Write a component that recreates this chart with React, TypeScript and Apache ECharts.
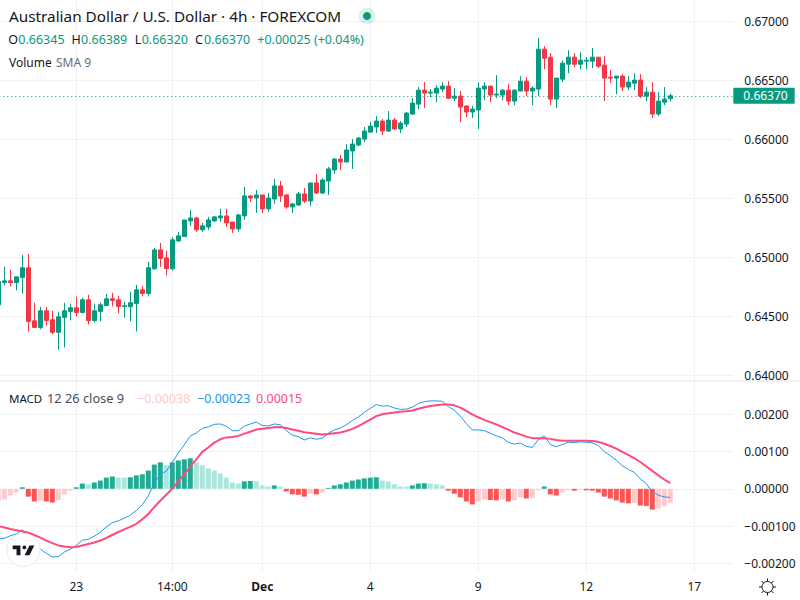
import React, { useEffect, useRef } from "react";
import * as echarts from "echarts";

const opens = [0.64596,0.64785,0.64799,0.64785,0.64828,0.64910,0.64460,0.64404,0.64545,0.64469,0.64362,0.64489,0.64540,0.64571,0.64531,0.64638,0.64463,0.64540,0.64590,0.64647,0.64638,0.64582,0.64579,0.64607,0.64723,0.64692,0.64901,0.65062,0.64994,0.64901,0.65138,0.65175,0.65308,0.65333,0.65232,0.65257,0.65308,0.65333,0.65350,0.65299,0.65240,0.65350,0.65520,0.65503,0.65528,0.65410,0.65494,0.65605,0.65528,0.65427,0.65443,0.65537,0.65477,0.65630,0.65545,0.65647,0.65740,0.65833,0.65808,0.65901,0.65952,0.66003,0.66062,0.66105,0.66155,0.66071,0.66164,0.66088,0.66130,0.66215,0.66299,0.66418,0.66393,0.66393,0.66427,0.66452,0.66350,0.66367,0.66283,0.66232,0.66249,0.66427,0.66452,0.66376,0.66376,0.66418,0.66325,0.66410,0.66494,0.66410,0.66427,0.66766,0.66698,0.66342,0.66511,0.66638,0.66698,0.66638,0.66664,0.66664,0.66698,0.66630,0.66528,0.66520,0.66537,0.66444,0.66477,0.66503,0.66367,0.66401,0.66215,0.66316,0.66345];
const closes = [0.64794,0.64799,0.64785,0.64833,0.64910,0.64455,0.64404,0.64545,0.64463,0.64362,0.64494,0.64545,0.64571,0.64531,0.64638,0.64463,0.64545,0.64596,0.64647,0.64633,0.64582,0.64588,0.64613,0.64723,0.64692,0.64910,0.65062,0.64989,0.64904,0.65147,0.65181,0.65316,0.65333,0.65232,0.65266,0.65316,0.65342,0.65350,0.65291,0.65240,0.65359,0.65520,0.65503,0.65528,0.65410,0.65503,0.65605,0.65520,0.65427,0.65452,0.65537,0.65477,0.65630,0.65545,0.65655,0.65749,0.65833,0.65808,0.65910,0.65960,0.66011,0.66071,0.66113,0.66155,0.66071,0.66164,0.66088,0.66138,0.66223,0.66308,0.66418,0.66393,0.66401,0.66435,0.66452,0.66350,0.66367,0.66274,0.66232,0.66257,0.66435,0.66452,0.66376,0.66384,0.66418,0.66325,0.66418,0.66494,0.66410,0.66435,0.66766,0.66689,0.66342,0.66520,0.66647,0.66698,0.66638,0.66672,0.66672,0.66698,0.66621,0.66520,0.66520,0.66537,0.66444,0.66486,0.66503,0.66367,0.66401,0.66215,0.66325,0.66342,0.66370];
const lows = [0.64560,0.64760,0.64751,0.64718,0.64689,0.64370,0.64404,0.64387,0.64421,0.64345,0.64217,0.64234,0.64463,0.64497,0.64523,0.64429,0.64446,0.64455,0.64588,0.64582,0.64523,0.64486,0.64455,0.64370,0.64667,0.64667,0.64893,0.64918,0.64845,0.64887,0.65130,0.65175,0.65266,0.65215,0.65215,0.65232,0.65299,0.65299,0.65257,0.65206,0.65215,0.65316,0.65469,0.65376,0.65376,0.65384,0.65452,0.65469,0.65410,0.65376,0.65435,0.65460,0.65435,0.65537,0.65537,0.65528,0.65706,0.65740,0.65808,0.65749,0.65944,0.65977,0.66054,0.66054,0.66037,0.66062,0.66079,0.66054,0.66105,0.66206,0.66257,0.66266,0.66359,0.66316,0.66401,0.66342,0.66325,0.66147,0.66189,0.66181,0.66088,0.66333,0.66316,0.66350,0.66333,0.66291,0.66291,0.66410,0.66367,0.66291,0.66367,0.66596,0.66291,0.66266,0.66486,0.66562,0.66613,0.66596,0.66596,0.66605,0.66605,0.66325,0.66477,0.66384,0.66410,0.66418,0.66418,0.66350,0.66325,0.66181,0.66198,0.66291,0.66320];
const highs = [0.64820,0.64918,0.64893,0.64833,0.65020,0.65028,0.64613,0.64579,0.64579,0.64545,0.64537,0.64613,0.64605,0.64664,0.64655,0.64681,0.64605,0.64613,0.64689,0.64698,0.64672,0.64621,0.64706,0.64766,0.64757,0.64960,0.65079,0.65121,0.65054,0.65172,0.65215,0.65316,0.65401,0.65342,0.65291,0.65342,0.65350,0.65410,0.65410,0.65299,0.65367,0.65596,0.65528,0.65571,0.65528,0.65545,0.65664,0.65647,0.65537,0.65460,0.65554,0.65588,0.65630,0.65706,0.65672,0.65766,0.65842,0.65867,0.65960,0.66003,0.66020,0.66105,0.66147,0.66198,0.66172,0.66240,0.66181,0.66155,0.66232,0.66350,0.66444,0.66486,0.66427,0.66460,0.66486,0.66494,0.66435,0.66410,0.66291,0.66283,0.66486,0.66486,0.66452,0.66545,0.66427,0.66469,0.66427,0.66537,0.66528,0.66452,0.66859,0.66791,0.66732,0.66520,0.66672,0.66757,0.66732,0.66740,0.66698,0.66774,0.66698,0.66706,0.66588,0.66537,0.66554,0.66537,0.66562,0.66554,0.66444,0.66486,0.66401,0.66444,0.66389];

const histogram = [-0.00033,-0.00029,-0.00018,-0.00010,0.00004,-0.00021,-0.00034,-0.00031,-0.00034,-0.00037,-0.00030,-0.00015,-0.00005,0.00004,0.00014,0.00012,0.00017,0.00022,0.00030,0.00033,0.00030,0.00030,0.00031,0.00036,0.00039,0.00049,0.00065,0.00071,0.00063,0.00071,0.00076,0.00079,0.00082,0.00071,0.00063,0.00055,0.00049,0.00041,0.00030,0.00017,0.00014,0.00020,0.00021,0.00020,0.00009,0.00006,0.00009,0.00006,-0.00007,-0.00015,-0.00016,-0.00021,-0.00013,-0.00015,-0.00010,0.00002,0.00009,0.00012,0.00017,0.00022,0.00025,0.00028,0.00030,0.00031,0.00022,0.00020,0.00012,0.00006,0.00006,0.00009,0.00014,0.00015,0.00014,0.00012,0.00009,-0.00005,-0.00013,-0.00023,-0.00034,-0.00042,-0.00034,-0.00029,-0.00030,-0.00031,-0.00029,-0.00034,-0.00031,-0.00023,-0.00026,-0.00025,-0.00004,0.00006,-0.00015,-0.00018,-0.00010,-0.00004,-0.00005,-0.00003,-0.00004,-0.00005,-0.00010,-0.00021,-0.00026,-0.00031,-0.00037,-0.00039,-0.00038,-0.00045,-0.00046,-0.00056,-0.00053,-0.00047,-0.00038];
const macdLine = [-0.00133,-0.00133,-0.00126,-0.00121,-0.00110,-0.00139,-0.00158,-0.00162,-0.00173,-0.00183,-0.00182,-0.00170,-0.00162,-0.00152,-0.00138,-0.00136,-0.00127,-0.00117,-0.00102,-0.00091,-0.00086,-0.00079,-0.00071,-0.00058,-0.00043,-0.00019,0.00016,0.00039,0.00047,0.00071,0.00096,0.00118,0.00142,0.00150,0.00162,0.00166,0.00173,0.00174,0.00168,0.00156,0.00156,0.00168,0.00174,0.00179,0.00170,0.00169,0.00174,0.00172,0.00156,0.00144,0.00140,0.00131,0.00137,0.00133,0.00136,0.00149,0.00158,0.00163,0.00172,0.00183,0.00193,0.00205,0.00216,0.00226,0.00222,0.00223,0.00217,0.00213,0.00214,0.00219,0.00229,0.00234,0.00236,0.00236,0.00235,0.00221,0.00211,0.00195,0.00175,0.00158,0.00158,0.00156,0.00149,0.00142,0.00137,0.00125,0.00120,0.00123,0.00114,0.00111,0.00132,0.00142,0.00119,0.00113,0.00119,0.00125,0.00124,0.00126,0.00125,0.00123,0.00116,0.00100,0.00089,0.00077,0.00062,0.00052,0.00044,0.00027,0.00014,-0.00008,-0.00017,-0.00022,-0.00023];
const signalLine = [-0.00100,-0.00104,-0.00108,-0.00111,-0.00114,-0.00118,-0.00124,-0.00131,-0.00139,-0.00146,-0.00152,-0.00155,-0.00157,-0.00156,-0.00152,-0.00148,-0.00144,-0.00139,-0.00132,-0.00124,-0.00116,-0.00109,-0.00102,-0.00094,-0.00082,-0.00068,-0.00049,-0.00032,-0.00016,0.00000,0.00020,0.00039,0.00060,0.00079,0.00099,0.00111,0.00124,0.00133,0.00138,0.00139,0.00142,0.00148,0.00153,0.00159,0.00161,0.00163,0.00165,0.00166,0.00163,0.00159,0.00156,0.00152,0.00150,0.00148,0.00146,0.00147,0.00149,0.00151,0.00155,0.00161,0.00168,0.00177,0.00186,0.00195,0.00200,0.00203,0.00205,0.00207,0.00208,0.00210,0.00215,0.00219,0.00222,0.00224,0.00226,0.00226,0.00224,0.00218,0.00209,0.00200,0.00192,0.00185,0.00179,0.00173,0.00166,0.00159,0.00151,0.00146,0.00140,0.00136,0.00136,0.00136,0.00134,0.00131,0.00129,0.00129,0.00129,0.00129,0.00129,0.00128,0.00126,0.00121,0.00115,0.00108,0.00099,0.00091,0.00082,0.00072,0.00060,0.00048,0.00036,0.00025,0.00015];

const timeTickSlots = [13, 29, 44, 62, 80, 98, 116];
const timeTickLabels = ["23", "14:00", "Dec", "4", "9", "12", "17"];
const lastClose = 0.6637;
const slotCount = 123;

const categories = Array.from({ length: slotCount }, (_, s) => {
  const k = timeTickSlots.indexOf(s);
  return k >= 0 ? timeTickLabels[k] : `s${s}`;
});
const isTick = (s: number) => timeTickSlots.includes(s);

const UP = "#089981";
const DOWN = "#f23645";
const GRID = "#f0f1f3";
const TEXT = "#131722";
const FONT = "'Noto Sans', sans-serif";

const fmt = (v: number) => (v < 0 ? "\u2212" : "") + Math.abs(v).toFixed(5);

const candles = opens.map((o, i) => [o, closes[i], lows[i], highs[i]]);
const histBars = histogram.map((v, i) => {
  const prev = i > 0 ? histogram[i - 1] : v;
  const color = v >= 0 ? (v > prev ? "#22ab94" : "#ace5dc") : v < prev ? "#ff5252" : "#fccbcd";
  return { value: v, itemStyle: { color } };
});

echarts.graphic.registerShape(
  "tvLogo",
  echarts.graphic.extendPath("M14 6H2v6h6v9h6V6zm14 15h-7.5L28 6h7.5L28 21zm-8-9a3 3 0 1 0 0-6 3 3 0 0 0 0 6z", {}) as any
);

const sun = { x: 767.5, y: 587 };
const sunSpikes = [0, 45, 90, 135, 180, 225, 270, 315].map((deg) => {
  const a = (deg * Math.PI) / 180;
  return {
    type: "line",
    silent: true,
    z: 50,
    shape: {
      x1: sun.x + Math.cos(a) * 5.5,
      y1: sun.y + Math.sin(a) * 5.5,
      x2: sun.x + Math.cos(a) * 8.5,
      y2: sun.y + Math.sin(a) * 8.5,
    },
    style: { stroke: TEXT, lineWidth: 1 },
  };
});

const label = (x: number, y: number, text: string, fill = TEXT, fontSize = 12.5) => ({
  type: "text",
  x,
  y,
  z: 40,
  silent: true,
  style: { text, fontFamily: FONT, fontSize, fill, align: "left", verticalAlign: "middle" },
});

const grids = [
  { left: -4.7, width: 738, top: 0, height: 572, outerBoundsMode: "none" },
  { left: -4.7, width: 738, top: 0, height: 375, outerBoundsMode: "none" },
  { left: -4.7, width: 738, top: 382, height: 181.3, outerBoundsMode: "none" },
];

const option: any = {
  animation: false,
  backgroundColor: "#ffffff",
  grid: grids,
  xAxis: [
    {
      type: "category",
      gridIndex: 0,
      data: categories,
      axisLine: { show: false },
      axisTick: { show: false },
      splitLine: {
        show: true,
        alignWithLabel: true,
        interval: (s: number) => isTick(s),
        lineStyle: { color: GRID, width: 1 },
      },
      axisLabel: {
        interval: (s: number) => isTick(s),
        hideOverlap: false,
        color: TEXT,
        fontSize: 12,
        fontFamily: FONT,
        margin: 8,
        formatter: (v: string) => (v === "Dec" ? `{b|${v}}` : v),
        rich: { b: { fontWeight: "bold", fontSize: 12, fontFamily: FONT, color: TEXT } },
      },
    },
    { type: "category", gridIndex: 1, data: categories, show: false },
    { type: "category", gridIndex: 2, data: categories, show: false },
  ],
  yAxis: [
    { type: "value", gridIndex: 0, show: false, min: 0, max: 1, splitLine: { show: false } },
    {
      type: "value",
      gridIndex: 1,
      position: "right",
      min: 0.64,
      max: 0.67183,
      interval: 0.005,
      axisLine: { show: false },
      axisTick: { show: false },
      splitLine: { show: true, showMaxLine: false, lineStyle: { color: GRID, width: 1 } },
      axisLabel: { showMaxLabel: false, color: TEXT, fontSize: 12, fontFamily: FONT, align: "left", margin: 11, formatter: fmt },
    },
    {
      type: "value",
      gridIndex: 2,
      position: "right",
      min: -0.002,
      max: 0.002867,
      interval: 0.001,
      axisLine: { show: false },
      axisTick: { show: false },
      splitLine: { show: true, showMaxLine: false, lineStyle: { color: GRID, width: 1 } },
      axisLabel: { showMaxLabel: false, color: TEXT, fontSize: 12, fontFamily: FONT, align: "left", margin: 11, formatter: fmt },
    },
  ],
  series: [
    {
      type: "candlestick",
      xAxisIndex: 1,
      yAxisIndex: 1,
      data: candles,
      barWidth: 4,
      itemStyle: { color: UP, color0: DOWN, borderColor: UP, borderColor0: DOWN, borderWidth: 1 },
      markLine: {
        silent: true,
        symbol: "none",
        animation: false,
        precision: 5,
        data: [{ yAxis: lastClose }],
        lineStyle: { color: UP, type: [1, 3], width: 1 },
        label: {
          show: true,
          position: "end",
          distance: 0,
          formatter: () => lastClose.toFixed(5),
          color: "#ffffff",
          backgroundColor: UP,
          fontFamily: FONT,
          fontSize: 12,
          padding: [2, 7, 2, 10],
          borderRadius: 1,
        },
      },
    },
    { type: "bar", xAxisIndex: 2, yAxisIndex: 2, data: histBars, barWidth: 5 },
    {
      type: "line",
      xAxisIndex: 2,
      yAxisIndex: 2,
      data: macdLine,
      showSymbol: false,
      symbol: "none",
      lineStyle: { color: "#2196f3", width: 1 },
    },
    {
      type: "line",
      xAxisIndex: 2,
      yAxisIndex: 2,
      data: signalLine,
      showSymbol: false,
      symbol: "none",
      lineStyle: { color: "#ff4a80", width: 2 },
    },
  ],
  graphic: [
    {
      type: "line",
      silent: true,
      z: 30,
      shape: { x1: 0, y1: 381, x2: 800, y2: 381 },
      style: { stroke: "#e0e3eb", lineWidth: 1 },
    },
    label(9, 16, "Australian Dollar / U.S. Dollar \u00b7 4h \u00b7 FOREXCOM", TEXT, 15.3),
    { type: "circle", silent: true, z: 40, shape: { cx: 367, cy: 16, r: 8.5 }, style: { fill: "rgba(8,153,129,0.14)" } },
    { type: "circle", silent: true, z: 41, shape: { cx: 367, cy: 16, r: 4 }, style: { fill: UP } },
    label(8.3, 39, "O"),
    label(18.3, 39, "0.66345", UP),
    label(71.5, 39, "H"),
    label(81, 39, "0.66389", UP),
    label(134.7, 39, "L"),
    label(141.7, 39, "0.66320", UP),
    label(195, 39, "C"),
    label(204, 39, "0.66370", UP),
    label(257.3, 39, "+0.00025 (+0.04%)", UP),
    label(9, 62, "Volume", TEXT, 12),
    label(56, 62, "SMA 9", "#6a6d78", 12),
    label(9, 398, "MACD", TEXT, 11.5),
    label(47, 398, "12 26 close 9", "#4a4d58", 12.8),
    label(137, 398, "\u22120.00038", "#fccbcd"),
    label(197, 398, "\u22120.00023", "#2196f3"),
    label(256, 398, "0.00015", "#ff4a80"),
    {
      type: "circle",
      silent: true,
      z: 42,
      shape: { cx: 23.5, cy: 550, r: 16.5 },
      style: { fill: "#ffffff", stroke: "#e8e9ec", lineWidth: 1 },
    },
    {
      type: "tvLogo",
      silent: true,
      z: 43,
      x: 11.4,
      y: 541.6,
      scaleX: 0.645,
      scaleY: 0.645,
      style: { fill: "#131722" },
    },
    {
      type: "circle",
      silent: true,
      z: 50,
      shape: { cx: sun.x, cy: sun.y, r: 5.5 },
      style: { fill: "#ffffff", stroke: TEXT, lineWidth: 1 },
    },
    ...sunSpikes,
  ],
};

export default function App() {
  const ref = useRef<HTMLDivElement>(null);
  useEffect(() => {
    document.body.style.margin = "0";
    const chart = echarts.init(ref.current!, undefined, { renderer: "svg" });
    chart.setOption(option);
    return () => chart.dispose();
  }, []);
  return <div ref={ref} style={{ width: 800, height: 600, background: "#fff" }} />;
}
